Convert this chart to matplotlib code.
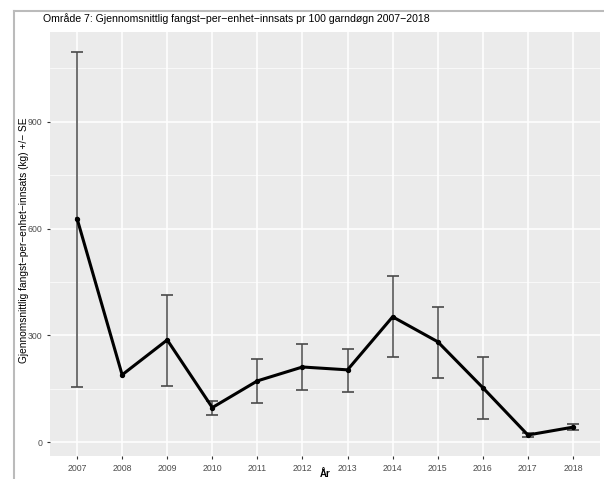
import numpy as np
import matplotlib.pyplot as plt
from matplotlib.lines import Line2D

plt.rcParams['font.family'] = ['Liberation Sans', 'DejaVu Sans']

# data
years = [2007, 2008, 2009, 2010, 2011, 2012, 2013, 2014, 2015, 2016, 2017, 2018]
mean_cpue = [628, 189, 287, 97, 172, 211, 203, 352, 282, 153, 20, 42]
upper = [1096, np.nan, 414, 115, 234, 277, 262, 466, 380, 239, 26, 50]
lower = [156, np.nan, 158, 76, 110, 145, 141, 239, 180, 65, 14, 34]

title = "Område 7: Gjennomsnittlig fangst\u2212per\u2212enhet\u2212innsats pr 100 garndøgn 2007\u22122018"
ylabel = "Gjennomsnittlig fangst\u2212per\u2212enhet\u2212innsats (kg) +/\u2212 SE"
xlabel = "År"

fig = plt.figure(figsize=(6.04, 4.79), dpi=100)
ax = fig.add_axes([50 / 604, 1 - 456 / 479, 550 / 604, 424 / 479])

x = np.arange(len(years))
ax.set_facecolor("#ebebeb")
for s in ax.spines.values():
    s.set_visible(False)

# ggplot-style grid
ax.set_yticks([0, 300, 600, 900])
ax.set_yticks([150, 450, 750, 1050], minor=True)
ax.set_xticks(x)
ax.set_xticklabels([str(y) for y in years])
ax.grid(which="major", color="white", linewidth=1.1)
ax.grid(which="minor", axis="y", color="white", linewidth=0.5)
ax.set_axisbelow(True)

ax.plot(x, mean_cpue, color="black", linewidth=2.2, solid_joinstyle="round", zorder=3)
ax.scatter(x, mean_cpue, color="black", s=8, zorder=4)
m = np.array(mean_cpue, dtype=float)
yerr = [m - np.array(lower, dtype=float), np.array(upper, dtype=float) - m]
ax.errorbar(x, mean_cpue, yerr=yerr, fmt="none", ecolor="#4a4a4a",
            elinewidth=1.1, capsize=4.5, capthick=1.2, zorder=2)

ax.set_xlim(-0.6, len(years) - 0.4)
ax.set_ylim(-39, 1152)

ax.tick_params(axis="both", which="major", length=2.5, color="#333333",
               labelsize=6.3, labelcolor="#4d4d4d", pad=3)
ax.tick_params(axis="both", which="minor", length=0)

fig.text(325 / 604, 1 - 474 / 479, xlabel, fontsize=7, fontweight="bold", ha="center", va="center")
fig.text(24 / 604, 1 - 240 / 479, ylabel, fontsize=7.3, rotation=90, ha="center", va="center")
fig.text(43 / 604, 1 - 19 / 479, title, fontsize=7.6, va="center", ha="left")

# frame of the embedded screenshot
fig.add_artist(Line2D([14 / 604, 14 / 604], [0, 1 - 11 / 479], color="#bbbbbb", linewidth=1.5))
fig.add_artist(Line2D([14 / 604, 1], [1 - 11 / 479, 1 - 11 / 479], color="#bbbbbb", linewidth=1.5))

fig.savefig("out.png", dpi=100)
